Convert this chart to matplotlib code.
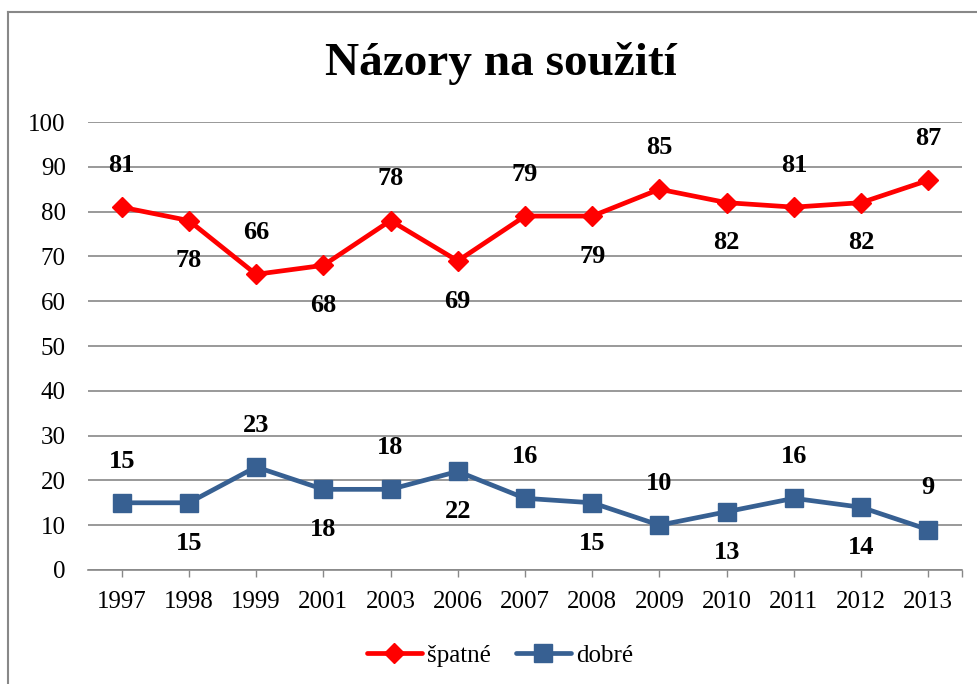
import matplotlib
matplotlib.use("Agg")
import matplotlib.pyplot as plt
from matplotlib.lines import Line2D

years = ["1997", "1998", "1999", "2001", "2003", "2006", "2007", "2008",
         "2009", "2010", "2011", "2012", "2013"]
spatne = [81, 78, 66, 68, 78, 69, 79, 79, 85, 82, 81, 82, 87]
dobre = [15, 15, 23, 18, 18, 22, 16, 15, 10, 13, 16, 14, 9]
title = "Názory na soužití"
yticks = [0, 10, 20, 30, 40, 50, 60, 70, 80, 90, 100]

plt.rcParams['font.family'] = ['Liberation Serif', 'DejaVu Serif']

fig = plt.figure(figsize=(9.78, 6.84), dpi=100)
ax = fig.add_axes([0.090, 0.1667, 0.8936, 0.6549])

red = '#FF0000'
blue = '#376092'
x = list(range(len(years)))

ax.plot(x, spatne, color=red, lw=3.4, marker='D', ms=10, mec=red, mfc=red,
        label='špatné', zorder=3, solid_joinstyle='round', solid_capstyle='round')
ax.plot(x, dobre, color=blue, lw=3.4, marker='s', ms=13, mec=blue, mfc=blue,
        label='dobré', zorder=3, solid_joinstyle='round', solid_capstyle='round')

for i in x:
    off = 30 if i % 2 == 0 else -29
    for vals in (spatne, dobre):
        ax.annotate(str(vals[i]), (i, vals[i]), xytext=(0, off), textcoords='offset points',
                    ha='center', va='center', fontsize=19, fontweight='bold', color='black')

ax.set_xlim(-0.5, 12.5)
ax.set_ylim(0, 100)
ax.set_yticks(yticks)
ax.set_xticks(x)
ax.set_xticklabels(years)
ax.set_xticks([12.5], minor=True)
ax.tick_params(axis='y', length=0, pad=16, labelsize=18)
ax.tick_params(axis='x', which='both', length=5, width=1, color='#888888', pad=10, labelsize=18)
ax.grid(axis='y', color='#888888', lw=1.2)
ax.set_axisbelow(True)
for s in ['top', 'right', 'left']:
    ax.spines[s].set_visible(False)
ax.spines['bottom'].set_color('#888888')
ax.spines['bottom'].set_linewidth(1.2)

fig.text(0.512, 0.907, title, ha='center', va='center', fontsize=34, fontweight='bold')

leg = fig.legend(loc='center', bbox_to_anchor=(0.511, 0.042), ncol=2, frameon=False,
                 fontsize=18, handlelength=2.2, handletextpad=0.2, columnspacing=1.0)

# outer frame (left and top)
fig.add_artist(Line2D([0.0077, 0.0077], [0.0, 0.982], transform=fig.transFigure, color='#888888', lw=1.5))
fig.add_artist(Line2D([0.0077, 1.0], [0.982, 0.982], transform=fig.transFigure, color='#888888', lw=1.5))

fig.savefig('out.png', dpi=100)
